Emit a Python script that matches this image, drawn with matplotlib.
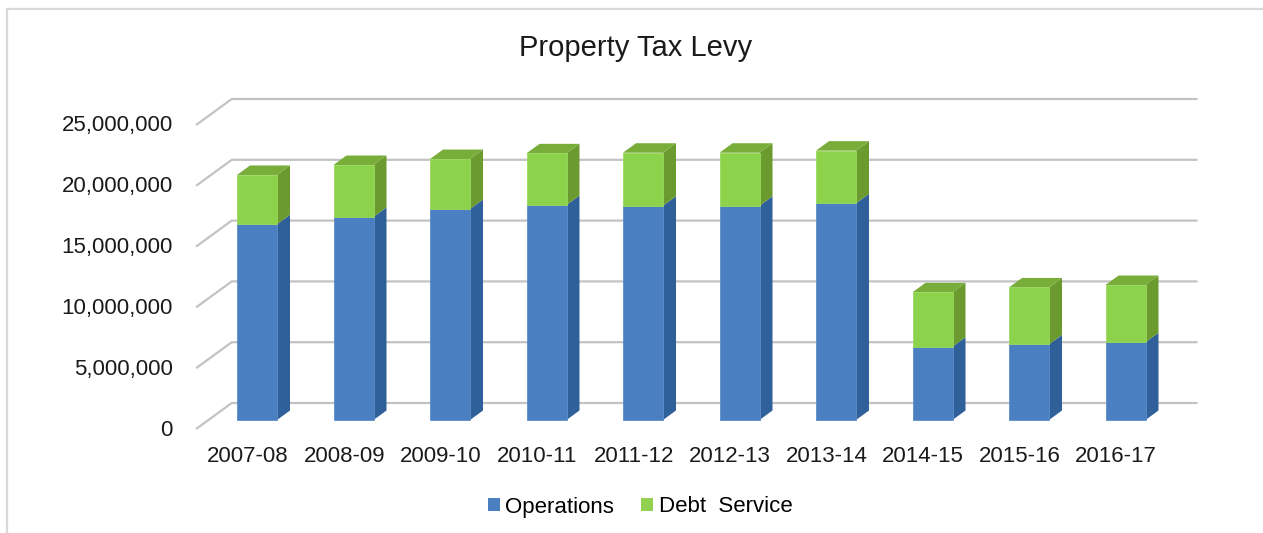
import matplotlib
matplotlib.use('Agg')
import matplotlib.pyplot as plt
from matplotlib.patches import Polygon, Patch
from matplotlib.lines import Line2D
from matplotlib.transforms import ScaledTranslation

plt.rcParams['font.family'] = ['Liberation Sans', 'DejaVu Sans']

years = ['2007-08', '2008-09', '2009-10', '2010-11', '2011-12',
         '2012-13', '2013-14', '2014-15', '2015-16', '2016-17']
operations = [16100000, 16700000, 17350000, 17680000, 17620000,
              17620000, 17820000, 6030000, 6220000, 6390000]
debt_service = [4050000, 4270000, 4110000, 4250000, 4360000,
                4360000, 4330000, 4470000, 4680000, 4710000]
y_ticks = [0, 5000000, 10000000, 15000000, 20000000, 25000000]

BLUE_FRONT, BLUE_SIDE = '#4a7fc1', '#30609a'
GREEN_FRONT, GREEN_SIDE, GREEN_TOP = '#8cd24a', '#6b9a2e', '#78ad3a'
GRID = '#c3c3c3'

W, H, DPI = 1263, 533, 100
fig = plt.figure(figsize=(W / DPI, H / DPI), dpi=DPI)
ax = fig.add_axes([0, 0, 1, 1])
ax.axis('off')

# front plane of the bars: category i sits at pixel 257 + 96.5*i, value 0 at row 420
px_per_cat = 96.5
px_per_val = 12.16e-6
ax.set_xlim(-257 / px_per_cat, (W - 257) / px_per_cat)
ax.set_ylim((420 - H) / px_per_val, 420 / px_per_val)


def px(dx, dy):
    # pixel offset (right, up) -> data offset
    return dx / px_per_cat, dy / px_per_val


def shift(dx, dy):
    return ax.transData + ScaledTranslation(dx / DPI, dy / DPI, fig.dpi_scale_trans)


n = len(years)
x = list(range(n))
left, right = -0.5, n - 0.5
wall_dx, wall_dy = px(23, 17)      # back wall
floor_dx, floor_dy = px(-12, -8.5)  # front edge of the floor
bar_dx, bar_dy = px(13, 9.5)        # bar depth
bw = 40 / px_per_cat

# gridlines on the back wall plus their run along the side wall
for v in y_ticks:
    ax.plot([left + floor_dx, left + wall_dx, right + wall_dx],
            [v + floor_dy, v + wall_dy, v + wall_dy],
            color=GRID, lw=1.6, zorder=1, solid_capstyle='round')
    ax.text(left, v, f'{v:,}', transform=shift(-36, -10),
            ha='right', va='center', fontsize=16, color='#1a1a1a')

# stacked bars: front faces
tops = [o + d for o, d in zip(operations, debt_service)]
ax.bar(x, operations, width=bw, color=BLUE_FRONT, zorder=3,
       edgecolor='#5d8dc8', linewidth=0.6)
ax.bar(x, debt_service, bottom=operations, width=bw, color=GREEN_FRONT,
       zorder=3, edgecolor='#9ad95e', linewidth=0.6)

# side and top faces
for xi, o, t in zip(x, operations, tops):
    xr = xi + bw / 2
    for lo, hi, c in ((0, o, BLUE_SIDE), (o, t, GREEN_SIDE)):
        ax.add_patch(Polygon([(xr, lo), (xr + bar_dx, lo + bar_dy),
                              (xr + bar_dx, hi + bar_dy), (xr, hi)],
                             closed=True, facecolor=c, edgecolor='none', zorder=2))
    ax.add_patch(Polygon([(xi - bw / 2, t), (xr, t), (xr + bar_dx, t + bar_dy),
                          (xi - bw / 2 + bar_dx, t + bar_dy)],
                         closed=True, facecolor=GREEN_TOP, edgecolor='none', zorder=2))

# category labels along the floor edge
for xi, lab in zip(x, years):
    ax.text(xi, 0, lab, transform=shift(-9.3, -36), ha='center', va='center',
            fontsize=16, color='#1a1a1a')

fig.text(636 / W, 1 - 48 / H, 'Property Tax Levy', ha='center', va='center',
         fontsize=21, color='#1a1a1a')

handles = [Patch(facecolor=BLUE_FRONT, edgecolor='none', label='Operations'),
           Patch(facecolor='#92d050', edgecolor='none', label='Debt  Service')]
fig.legend(handles=handles, loc='center', bbox_to_anchor=(640 / W, 1 - 507 / H),
           ncol=2, frameon=False, fontsize=16, handlelength=0.55, handleheight=0.55,
           handletextpad=0.25, columnspacing=1.2)

# chart area border (top and left edges)
fig.add_artist(Line2D([7 / W, 7 / W, 1], [0, 1 - 9 / H, 1 - 9 / H],
                      transform=fig.transFigure, color='#d9d9d9', lw=1.6))

fig.savefig('out.png', dpi=DPI)
